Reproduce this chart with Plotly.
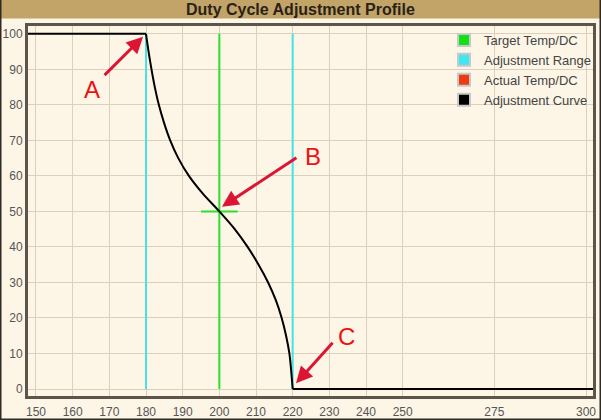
import plotly.graph_objects as go

# ---- data ----
curve_x = [140, 180, 180.7, 181.5, 182.4, 183.5, 184.9, 186.6, 188.8, 191.7, 195.5,
           200.0, 204.2, 207.7, 210.7, 213.3, 215.4, 217.0, 218.2, 219.1, 219.6,
           220, 310]
curve_y = [100, 100, 95, 90, 85, 80, 75, 70, 65, 60, 55,
           50, 45, 40, 35, 30, 25, 20, 15, 10, 5,
           0, 0]
target_x = 200
target_y = 50
target_half_width = 5
range_low = 180
range_high = 220
dc_min, dc_max = 0, 100
x_ticks = [150, 160, 170, 180, 190, 200, 210, 220, 230, 240, 250, 275, 300]
y_ticks = [0, 10, 20, 30, 40, 50, 60, 70, 80, 90, 100]
legend_names = ["Target Temp/DC", "Adjustment Range", "Actual Temp/DC", "Adjustment Curve"]
legend_colors = ["#11e011", "#3ee8ee", "#ee3a10", "#000000"]
labels = ["A", "B", "C"]
label_pos = [(165.3, 84.2), (225.5, 65.4), (234.8, 14.9)]
arrow_tips = [(179.2, 99.2), (200.7, 51.3), (220.9, 1.6)]
arrow_offsets = [(-40, 40), (76, -50), (38, -42)]

GREEN = "#2ee02e"
CYAN = "#45e3e6"

fig = go.Figure()

# adjustment range lines
for xv in (range_low, range_high):
    fig.add_trace(go.Scatter(x=[xv, xv], y=[dc_min, dc_max], mode="lines",
                             line=dict(color=CYAN, width=2), showlegend=False,
                             hoverinfo="skip"))
# target lines
fig.add_trace(go.Scatter(x=[target_x, target_x], y=[dc_min, dc_max], mode="lines",
                         line=dict(color=GREEN, width=2), showlegend=False, hoverinfo="skip"))
fig.add_trace(go.Scatter(x=[target_x - target_half_width, target_x + target_half_width],
                         y=[target_y, target_y], mode="lines",
                         line=dict(color=GREEN, width=2), showlegend=False, hoverinfo="skip"))

# adjustment curve: flat parts straight, transition smoothed
i0 = curve_x.index(range_low)
i1 = curve_x.index(range_high)
fig.add_trace(go.Scatter(x=curve_x[:i0 + 1], y=curve_y[:i0 + 1], mode="lines",
                         line=dict(color="black", width=2), showlegend=False))
fig.add_trace(go.Scatter(x=curve_x[i0:i1 + 1], y=curve_y[i0:i1 + 1], mode="lines",
                         line=dict(color="black", width=2, shape="spline", smoothing=1.0),
                         showlegend=False))
fig.add_trace(go.Scatter(x=curve_x[i1:], y=curve_y[i1:], mode="lines",
                         line=dict(color="black", width=2), showlegend=False))

# legend entries
for name, col in zip(legend_names, legend_colors):
    fig.add_trace(go.Scatter(x=[None], y=[None], mode="markers", name=name,
                             marker=dict(symbol="square", size=14, color=col,
                                         line=dict(color="#c8c8c8", width=1))))

# arrows + labels
for lab, (lx, ly), (tx, ty), (ax, ay) in zip(labels, label_pos, arrow_tips, arrow_offsets):
    fig.add_annotation(x=tx, y=ty, ax=ax, ay=ay, text="", showarrow=True,
                       arrowhead=2, arrowsize=1.1, arrowwidth=3, arrowcolor="#dd1535")
    fig.add_annotation(x=lx, y=ly, text=lab, showarrow=False,
                       font=dict(size=24, color="#ee1111", family="Liberation Sans, Arial"))

W, H = 601, 420
L, R, T, B = 28, 8, 26, 24
pw, ph = W - L - R, H - T - B

def px_x(p):
    return (p - L) / pw

def px_y(p):
    return (H - B - p) / ph

# title bar and outer border
fig.add_shape(type="rect", xref="paper", yref="paper",
              x0=px_x(0), x1=px_x(W), y0=px_y(18.5), y1=px_y(0),
              fillcolor="#c2a468", line=dict(width=0), layer="below")
fig.add_shape(type="rect", xref="paper", yref="paper",
              x0=px_x(0.5), x1=px_x(W - 0.5), y0=px_y(H - 0.5), y1=px_y(-2),
              fillcolor="rgba(0,0,0,0)", line=dict(color="#2e2a24", width=2))
fig.add_annotation(xref="paper", yref="paper", x=px_x(W / 2), y=px_y(9.5),
                   text="<b>Duty Cycle Adjustment Profile</b>", showarrow=False,
                   font=dict(size=16, color="#2a2216",
                             family="Liberation Sans Narrow, Arial Narrow, Liberation Sans"),
                   xanchor="center", yanchor="middle")

axis_common = dict(showline=True, mirror=True, linecolor="#5e554a", linewidth=3,
                   showgrid=True, gridcolor="#dcd0bc", gridwidth=1, zeroline=False,
                   ticks="", automargin=False,
                   tickfont=dict(size=12, color="#555555", family="Liberation Sans, Arial"))
fig.update_xaxes(range=[147.82, 301.9], tickmode="array", tickvals=x_ticks,
                 ticktext=[str(v) for v in x_ticks], ticklabelstandoff=3, **axis_common)
fig.update_yaxes(range=[-1.97, 102.2], tickmode="array", tickvals=y_ticks,
                 ticktext=[str(v) for v in y_ticks], **axis_common)

fig.update_layout(
    width=W, height=H, margin=dict(l=L, r=R, t=T, b=B, autoexpand=False),
    paper_bgcolor="#fdf5e6", plot_bgcolor="#fdf5e6",
    showlegend=True,
    legend=dict(x=px_x(444), y=px_y(25), xanchor="left", yanchor="top",
                bgcolor="rgba(0,0,0,0)", font=dict(size=13, color="#444444",
                                                    family="Liberation Sans, Arial"),
                itemsizing="constant", tracegroupgap=0),
)

fig.write_html("out.html", config={"displayModeBar": False},
               post_script="document.body.style.margin='0';document.body.style.padding='0';")
